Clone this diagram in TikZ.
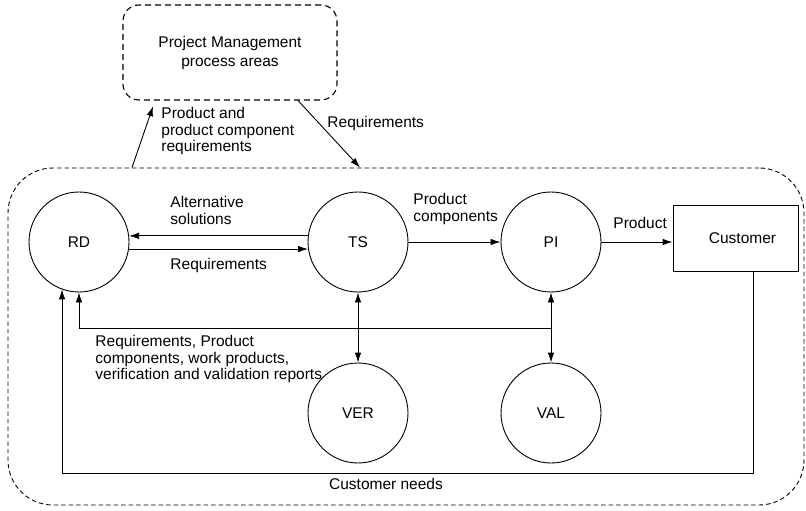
\documentclass[tikz,border=0pt]{standalone}
\usepackage{fontspec}
\setsansfont{Liberation Sans}
\usetikzlibrary{arrows.meta}

\begin{document}
\begin{tikzpicture}[x=1bp, y=-1bp, >={Latex[length=10bp,width=6.5bp]},
     line width=0.9bp,
     font=\sffamily\fontsize{15.5bp}{16.5bp}\selectfont,
     proc/.style = {circle, draw=black, minimum size=100bp, inner sep=0pt},
     lbl/.style = {align=left, inner sep=0pt, anchor=west}]
    \useasboundingbox (0,0) rectangle (806,511);
    % outer areas
    \node [draw, rounded corners=45bp, dash pattern=on 4.5bp off 3bp,
           line width=0.9bp, minimum width=796bp, minimum height=337bp]
        at (406,336.5) (eng) {};
    \node [draw, rounded corners=16bp, dash pattern=on 6bp off 4bp,
           line width=1.1bp, minimum width=214bp, minimum height=95bp,
           align=center, font=\sffamily\fontsize{15.5bp}{19bp}\selectfont]
        at (230,52.5) (PM) {Project Management\\process areas};
    % processes
    \node [proc] at (79,242)  (RD)  {RD};
    \node [proc] at (358,242) (TS)  {TS};
    \node [proc] at (551,242) (PI)  {PI};
    \node [proc] at (358,413) (VER) {VER};
    \node [proc] at (551,413) (VAL) {VAL};
    \node [draw, minimum width=125bp, minimum height=66bp]
        at (735.5,238) (Cust) {\hspace*{14bp}Customer};
    % helper points
    \coordinate (a1) at (132,0);
    \coordinate (a2) at (155,0);
    \coordinate (b1) at (298,0);
    \coordinate (b2) at (360,0);
    \coordinate (fb) at (79,328);
    \coordinate (cn) at (753,473);
    \coordinate (nb) at (62,473);
    % connectors
    \draw [->] (a1 |- eng.north) -- (a2 |- PM.south)
        [shorten >=6bp];
    \draw [->] (b1 |- PM.south) -- (b2 |- eng.north);
    \draw [->] (TS.173) -- (RD.7);
    \draw [->] (RD.-8) -- (TS.188);
    \draw [->] (TS.east) -- (PI.west);
    \draw [->] (PI.east) -- (PI.east -| Cust.west);
    \draw [<->] (TS.south) -- (VER.north);
    \draw [<->] (PI.south) -- (VAL.north);
    \draw [->] (PI.south |- fb) -- (fb) -- (RD.south);
    \draw [->] (Cust.south -| cn) -- (cn) -- (nb) -- (nb |- RD.250);
    % labels
    \node [lbl] at (161,131) (lpm)  {Product and\\product component\\requirements};
    \node [lbl] at (327,123) (lreq) {Requirements};
    \node [lbl] at (170,210.5) (lalt) {Alternative\\solutions};
    \node [lbl] at (170,265) (lrq)  {Requirements};
    \node [lbl] at (413,209) (lpc)  {Product\\components};
    \node [lbl] at (613,223) (lpr)  {Product};
    \node [lbl] at (95,359)  (lrep) {Requirements, Product\\components, work products,\\verification and validation reports};
    \node [anchor=center, inner sep=0pt] at (386,484) (lcn) {Customer needs};
\end{tikzpicture}
\end{document}
